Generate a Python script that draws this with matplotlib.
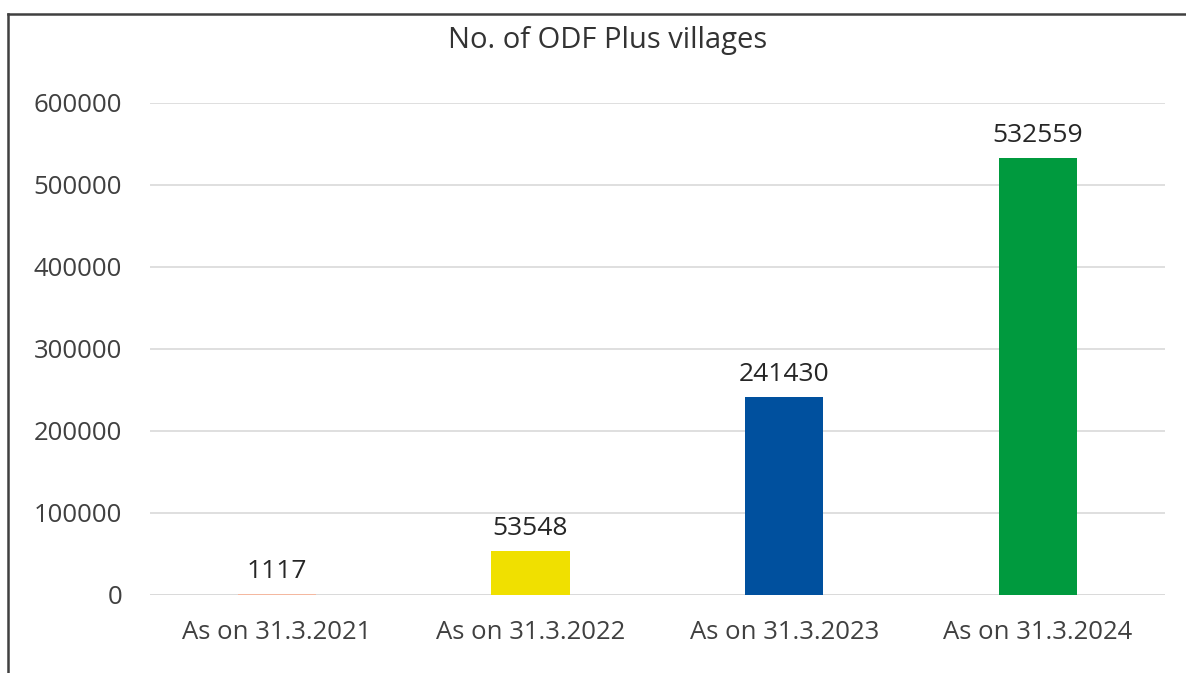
import matplotlib.pyplot as plt
from matplotlib.lines import Line2D

categories = ["As on 31.3.2021", "As on 31.3.2022", "As on 31.3.2023", "As on 31.3.2024"]
values = [1117, 53548, 241430, 532559]
colors = ["#F4B8A0", "#F0E000", "#00509E", "#009A3E"]

plt.rcParams['font.family'] = ['Open Sans', 'DejaVu Sans']

fig = plt.figure(figsize=(11.86, 6.73), dpi=100)
ax = fig.add_axes([0.1265, 0.1159, 0.8555, 0.7311])

x = range(len(categories))
ax.bar(x, values, width=0.31, color=colors, zorder=3)
for i, v in zip(x, values):
    ax.text(i, v + 12000, str(v), ha='center', va='bottom', fontsize=19, color='#262626')

ax.set_xlim(-0.5, 3.5)
ax.set_ylim(0, 600000)
ax.set_yticks(range(0, 600001, 100000))
ax.set_xticks(list(x))
ax.set_xticklabels(categories)
ax.tick_params(axis='both', length=0, labelsize=18.5, labelcolor='#404040')
ax.tick_params(axis='y', pad=20)
ax.tick_params(axis='x', pad=18)
ax.grid(axis='y', color='#D9D9D9', linewidth=1.2, zorder=0)
for s in ax.spines.values():
    s.set_visible(False)
ax.axhline(0, color='#D9D9D9', linewidth=1.2, zorder=2)

fig.text(0.512, 0.94, "No. of ODF Plus villages", ha='center', va='center', fontsize=21, color='#333333')

# outer frame (only top and left edges visible)
fig.add_artist(Line2D([8/1186, 8/1186], [0, 1 - 14/673], color='#404040', linewidth=1.8, transform=fig.transFigure))
fig.add_artist(Line2D([8/1186, 1], [1 - 14/673, 1 - 14/673], color='#404040', linewidth=1.8, transform=fig.transFigure))

fig.savefig("out.png", dpi=100)
